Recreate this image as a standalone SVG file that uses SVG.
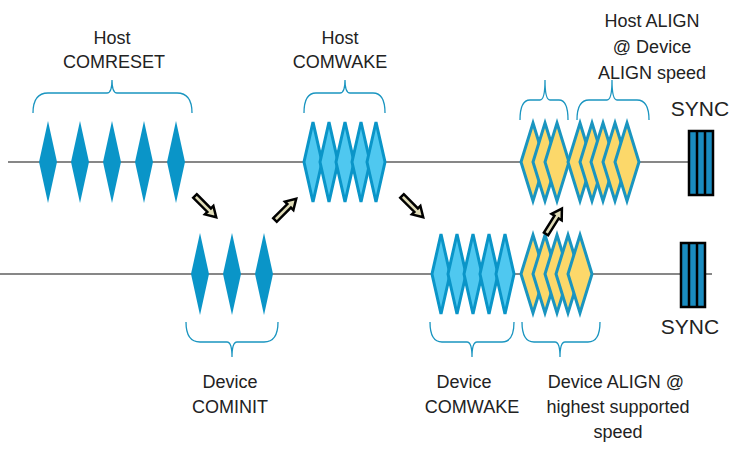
<svg xmlns="http://www.w3.org/2000/svg" width="742" height="449" viewBox="0 0 742 449">
<style>
text{font-family:"Liberation Sans",Arial,sans-serif;font-size:18px;fill:#222;text-anchor:middle}
.ln{stroke:#111;stroke-width:1.2}
.br{fill:none;stroke:#1a95c0;stroke-width:1.3}
.sd{fill:#0a95c8}
.lb{fill:#4fc8f0;stroke:#0a95c8;stroke-width:3;stroke-linejoin:miter}
.yl{fill:#fcd86a;stroke:#1a95c0;stroke-width:3}
.ar{fill:#e0dcb8;stroke:#000;stroke-width:2.5}
.sy{fill:#1a8cc0;stroke:#000;stroke-width:2.5}
</style>
<defs>
<path id="sd" d="M0,-41 L9,0 L0,41 L-9,0Z"/>
<path id="ld" d="M0,-40 L9,0 L0,40 L-9,0Z"/>
<path id="yd" d="M0,-39 L12,0 L0,39 L-12,0Z"/>
<path id="ar" d="M0,-2.5 L20,-2.5 L20,-6 L30,0 L20,6 L20,2.5 L0,2.5Z"/>
<g id="sync"><rect x="0" y="0" width="24" height="64" class="sy"/><line x1="8" y1="0" x2="8" y2="64" stroke="#000" stroke-width="2.5"/><line x1="16" y1="0" x2="16" y2="64" stroke="#000" stroke-width="2.5"/></g>
</defs>
<g id="lines"><line x1="8" y1="162" x2="690" y2="162" class="ln"/><line x1="0" y1="274" x2="712" y2="274" class="ln"/></g>
<g id="host-comreset">
<use href="#sd" x="48" y="162" class="sd"/><use href="#sd" x="80" y="162" class="sd"/><use href="#sd" x="112" y="162" class="sd"/><use href="#sd" x="144" y="162" class="sd"/><use href="#sd" x="176" y="162" class="sd"/>
<path class="br" d="M33,113 Q33,93 48,93 L107,93 Q112,93 112,80 Q112,93 117,93 L177,93 Q192,93 192,113"/>
<text x="112" y="44">Host</text><text x="114" y="68">COMRESET</text>
</g>
<g id="device-cominit">
<use href="#sd" x="200" y="274" class="sd"/><use href="#sd" x="232" y="274" class="sd"/><use href="#sd" x="264" y="274" class="sd"/>
<path class="br" d="M186,322 Q186,342 200,342 L227,342 Q232,342 232,357 Q232,342 237,342 L264,342 Q278,342 278,322"/>
<text x="230" y="388">Device</text><text x="230" y="413">COMINIT</text>
</g>
<g id="host-comwake">
<use href="#ld" x="313" y="162" class="lb"/><use href="#ld" x="329" y="162" class="lb"/><use href="#ld" x="345" y="162" class="lb"/><use href="#ld" x="361" y="162" class="lb"/><use href="#ld" x="376" y="162" class="lb"/>
<path class="br" d="M304,113 Q304,93 316,93 L340,93 Q345,93 345,80 Q345,93 350,93 L373,93 Q385,93 385,113"/>
<text x="340" y="44">Host</text><text x="340" y="68">COMWAKE</text>
</g>
<g id="device-comwake">
<use href="#ld" x="441" y="274" class="lb"/><use href="#ld" x="457" y="274" class="lb"/><use href="#ld" x="473" y="274" class="lb"/><use href="#ld" x="489" y="274" class="lb"/><use href="#ld" x="505" y="274" class="lb"/>
<path class="br" d="M430,322 Q430,342 442,342 L467,342 Q472,342 472,357 Q472,342 477,342 L502,342 Q514,342 514,322"/>
<text x="464" y="388">Device</text><text x="472" y="413">COMWAKE</text>
</g>
<g id="device-align">
<use href="#yd" x="533" y="274" class="yl"/><use href="#yd" x="545" y="274" class="yl"/><use href="#yd" x="557" y="274" class="yl"/><use href="#yd" x="568" y="274" class="yl"/><use href="#yd" x="580" y="274" class="yl"/>
<path class="br" d="M522,322 Q522,342 534,342 L555,342 Q560,342 560,357 Q560,342 565,342 L588,342 Q600,342 600,322"/>
<text x="616" y="388">Device ALIGN @</text><text x="618" y="413">highest supported</text><text x="618" y="438">speed</text>
</g>
<g id="host-align">
<use href="#yd" x="533" y="162" class="yl"/><use href="#yd" x="545" y="162" class="yl"/><use href="#yd" x="557" y="162" class="yl"/>
<use href="#yd" x="580" y="162" class="yl"/><use href="#yd" x="592" y="162" class="yl"/><use href="#yd" x="603" y="162" class="yl"/><use href="#yd" x="615" y="162" class="yl"/><use href="#yd" x="627" y="162" class="yl"/>
<path class="br" d="M520,120 Q520,100 530,100 L540,100 Q545,100 545,80 Q545,100 550,100 L559,100 Q568,100 568,120"/>
<path class="br" d="M577,120 Q577,100 589,100 L607,100 Q612,100 612,80 Q612,100 617,100 L637,100 Q649,100 649,120"/>
<text x="652" y="27">Host ALIGN</text><text x="652" y="53">@ Device</text><text x="652" y="79">ALIGN speed</text>
</g>
<g id="sync-host"><use href="#sync" x="689" y="131"/><text x="700" y="116" style="font-size:21px">SYNC</text></g>
<g id="sync-device"><use href="#sync" x="681" y="243"/><text x="690" y="334" style="font-size:21px">SYNC</text></g>
<g id="connectors">
<use href="#ar" class="ar" transform="translate(195,196) rotate(45)"/>
<use href="#ar" class="ar" transform="translate(275,220) rotate(-45)"/>
<use href="#ar" class="ar" transform="translate(402,196) rotate(45)"/>
<use href="#ar" class="ar" transform="translate(546,234) rotate(-58)"/>
</g>
</svg>
